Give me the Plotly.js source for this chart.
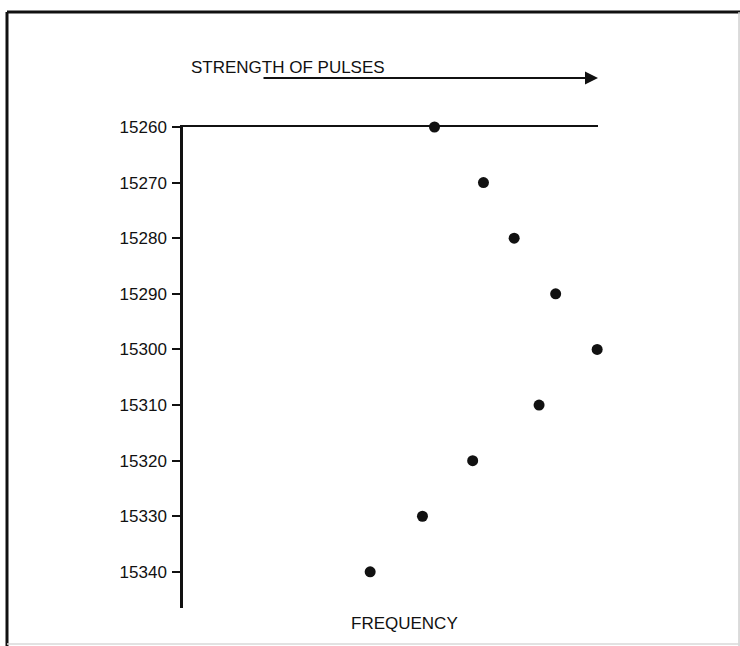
<!DOCTYPE html>
<html>
<head>
<meta charset="utf-8">
<script src="https://cdn.plot.ly/plotly-3.0.1.min.js"></script>
<style>html,body{margin:0;padding:0;background:#fff;}#chart{width:740px;height:646px;}</style>
</head>
<body>
<div id="chart"></div>
<script>
// Data (strength in arbitrary units, 0-100 across the plot)
const frequency = [15260, 15270, 15280, 15290, 15300, 15310, 15320, 15330, 15340];
const strength  = [60.6, 72.4, 79.8, 89.8, 99.8, 85.8, 69.8, 57.7, 45.1];
const yTickVals = [15260, 15270, 15280, 15290, 15300, 15310, 15320, 15330, 15340];
const yTickText = ["15260", "15270", "15280", "15290", "15300", "15310", "15320", "15330", "15340"];
const xLabel = "STRENGTH OF PULSES";
const yLabel = "FREQUENCY";

const font = "Liberation Sans, Arial, Helvetica, sans-serif";
const ink = "#111";

const trace = {
  type: "scatter",
  mode: "markers",
  x: strength,
  y: frequency,
  marker: {size: 11, color: ink},
  cliponaxis: false,
  hoverinfo: "x+y"
};

const layout = {
  width: 740, height: 646,
  margin: {l: 183, r: 142, t: 127, b: 38},
  paper_bgcolor: "#fff", plot_bgcolor: "#fff",
  showlegend: false,
  font: {family: font, color: ink, size: 16},
  xaxis: {
    range: [0, 100], side: "top", showline: true, linecolor: ink, linewidth: 2,
    showgrid: false, zeroline: false, showticklabels: false, ticks: "", fixedrange: true
  },
  yaxis: {
    range: [15346.5, 15260], showline: true, linecolor: ink, linewidth: 2.5,
    showgrid: false, zeroline: false, ticks: "outside", ticklen: 8, tickwidth: 2, tickcolor: ink,
    tickmode: "array", tickvals: yTickVals, ticktext: yTickText,
    tickfont: {family: font, size: 17, color: ink}, ticklabelstandoff: 2, fixedrange: true
  },
  annotations: [
    {xref: "paper", yref: "paper", x: 0.2530, y: 1.1227, text: xLabel, showarrow: false,
     font: {family: font, size: 17, color: ink}, xanchor: "center", yanchor: "middle"},
    {xref: "paper", yref: "paper", x: 1.0, y: 1.1019, text: "", showarrow: true,
     ax: -336, ay: 0, arrowhead: 2, arrowsize: 1.3, arrowwidth: 2, arrowcolor: ink},
    {xref: "paper", yref: "paper", x: 0.5349, y: -0.0312, text: yLabel, showarrow: false,
     font: {family: font, size: 17, color: ink}, xanchor: "center", yanchor: "middle"}
  ],
  shapes: [
    {type: "line", xref: "paper", yref: "paper", x0: -0.4241, x1: -0.4241, y0: 1.2391, y1: -0.0790,
     line: {color: ink, width: 3}},
    {type: "line", xref: "paper", yref: "paper", x0: -0.4241, x1: 1.3422, y0: 1.2391, y1: 1.2391,
     line: {color: ink, width: 3}},
    {type: "line", xref: "paper", yref: "paper", x0: 1.3398, x1: 1.3398, y0: 1.2391, y1: -0.0790,
     line: {color: "#cfcfcf", width: 1.5}},
    {type: "line", xref: "paper", yref: "paper", x0: -0.4241, x1: 1.3422, y0: -0.0748, y1: -0.0748,
     line: {color: "#d8d8d8", width: 1.5}}
  ]
};

Plotly.newPlot("chart", [trace], layout, {displayModeBar: false});
</script>
</body>
</html>
